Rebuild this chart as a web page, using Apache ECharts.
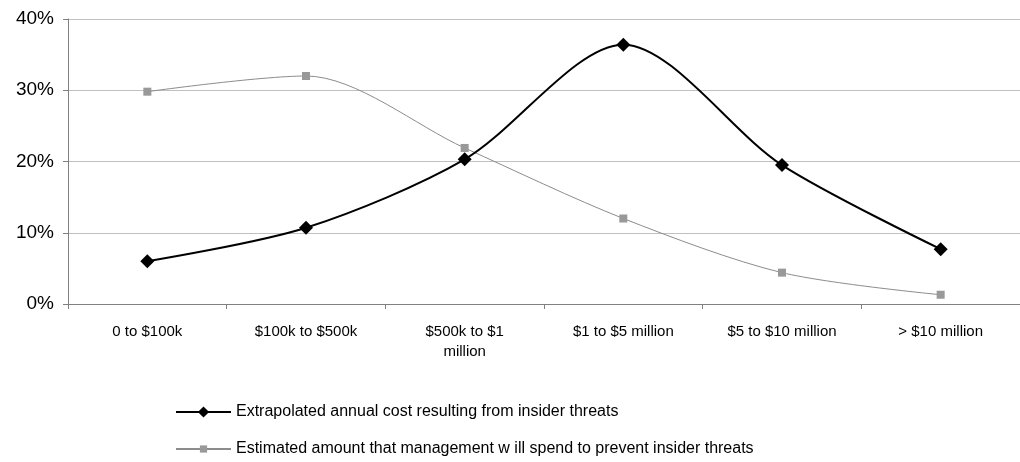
<!DOCTYPE html>
<html>
<head>
<meta charset="utf-8">
<script src="https://cdn.jsdelivr.net/npm/echarts@6/dist/echarts.min.js"></script>
<style>
  html, body { margin: 0; padding: 0; background: #ffffff; }
  #chart { width: 1020px; height: 462px; }
</style>
</head>
<body>
<div id="chart"></div>
<script>
// Cost bands (tick labels along the category axis)
const categories = [
  '0 to $100k',
  '$100k to $500k',
  '$500k to $1\nmillion',
  '$1 to $5 million',
  '$5 to $10 million',
  '> $10 million'
];

// Share of respondents per band, in percent
const annualCost = [6.0, 10.7, 20.3, 36.4, 19.5, 7.7];
const plannedSpend = [29.8, 32.0, 21.9, 12.0, 4.4, 1.3];

const seriesNames = [
  'Extrapolated annual cost resulting from insider threats',
  'Estimated amount that management w ill spend to prevent insider threats'
];

// Value axis ticks
const yMin = 0, yMax = 40, yStep = 10;

const font = 'Liberation Sans, Arial, sans-serif';
const chart = echarts.init(document.getElementById('chart'), null, { renderer: 'canvas' });

// One legend block per series so each keeps its own marker size
const legendBase = {
  orient: 'vertical',
  left: 175,
  padding: 0,
  itemWidth: 55,
  textStyle: { fontSize: 16, color: '#000000', fontFamily: font }
};

chart.setOption({
  backgroundColor: '#ffffff',
  animation: false,
  textStyle: { fontFamily: font, color: '#000000' },
  grid: { left: 68, top: 19, width: 960, height: 285, containLabel: false },
  xAxis: {
    type: 'category',
    data: categories,
    boundaryGap: true,
    axisLine: { lineStyle: { color: '#808080', width: 1 } },
    axisTick: { show: true, alignWithLabel: false, length: 5, interval: 0, lineStyle: { color: '#808080' } },
    axisLabel: { interval: 0, fontSize: 15, color: '#000000', margin: 18, lineHeight: 20, fontFamily: font },
    splitLine: { show: false }
  },
  yAxis: {
    type: 'value',
    min: yMin, max: yMax, interval: yStep,
    axisLine: { show: true, lineStyle: { color: '#808080', width: 1 } },
    axisTick: { show: true, length: 5, inside: false, lineStyle: { color: '#808080' } },
    axisLabel: { formatter: '{value}%', fontSize: 19, color: '#000000', margin: 14, fontFamily: font },
    splitLine: { show: true, lineStyle: { color: '#c0c0c0', width: 1 } }
  },
  legend: [
    Object.assign({}, legendBase, { top: 404, itemHeight: 14, data: [seriesNames[0]] }),
    Object.assign({}, legendBase, { top: 441, itemHeight: 9, data: [seriesNames[1]] })
  ],
  series: [
    {
      name: seriesNames[0],
      type: 'line',
      data: annualCost,
      smooth: 0.3,
      symbol: 'diamond',
      symbolSize: 14,
      showAllSymbol: true,
      itemStyle: { color: '#000000' },
      lineStyle: { color: '#000000', width: 2 },
      z: 3
    },
    {
      name: seriesNames[1],
      type: 'line',
      data: plannedSpend,
      smooth: 0.3,
      symbol: 'rect',
      symbolSize: 8,
      showAllSymbol: true,
      itemStyle: { color: '#999999' },
      lineStyle: { color: '#8c8c8c', width: 1 },
      z: 2
    }
  ]
});
</script>
</body>
</html>
